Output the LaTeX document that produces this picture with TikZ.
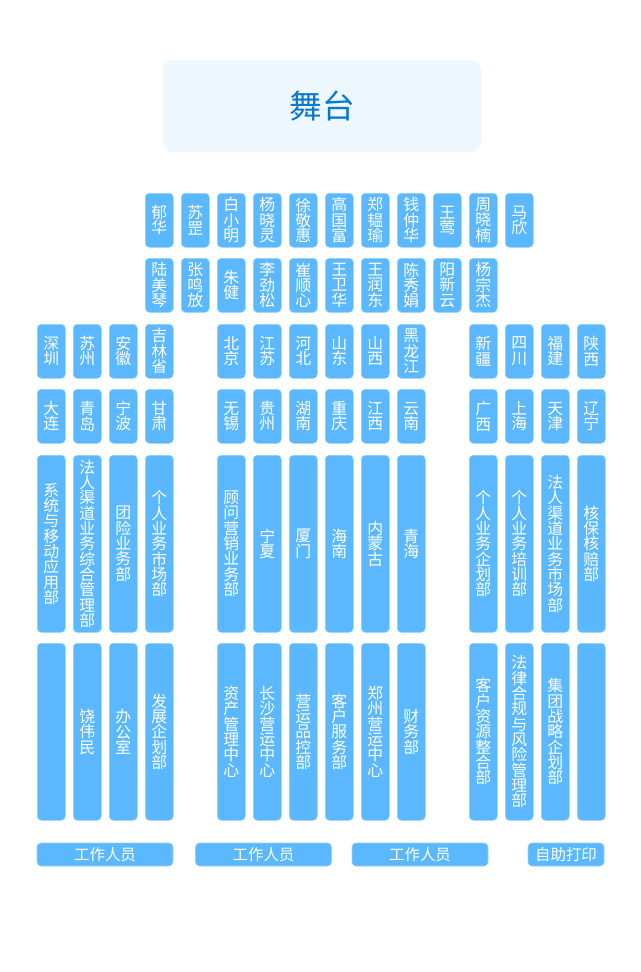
\documentclass[tikz,border=0pt]{standalone}
\usepackage{fontspec}
\newfontfamily\cjkfont{Noto Sans CJK SC}
\usetikzlibrary{positioning}
\definecolor{boxblue}{HTML}{5BB8FE}
\definecolor{stagefill}{HTML}{EEF6FE}
\definecolor{stagetext}{HTML}{0A78D2}

% one character per line
\newcommand{\vt}[1]{\edef\vttmp{#1}\expandafter\vtchk\expandafter{\vttmp}}
\newcommand{\vtchk}[1]{\if\relax\detokenize{#1}\relax\else\vtloop#1\vtstop\fi}
\def\vtloop#1#2\vtstop{#1\if\relax\detokenize{#2}\relax\else\par\vtloop#2\vtstop\fi}

\tikzset{
  cell/.style={fill=boxblue, draw=boxblue!65!white, line width=0.4pt,
    rounded corners=3pt, inner sep=0pt, text width=21pt, align=center,
    text=white, anchor=north west,
    font=\cjkfont\fontsize{11.9pt}{11.5pt}\selectfont},
  shortcell/.style={cell, minimum height=40.5pt},
  longcell/.style={cell, minimum height=132.75pt},
  staffbar/.style={fill=boxblue, draw=boxblue!65!white, line width=0.4pt,
    rounded corners=3pt, inner sep=0pt, minimum height=17.25pt,
    text=white, font=\cjkfont\fontsize{11.6pt}{12pt}\selectfont}
}

\begin{document}
\begin{tikzpicture}[x=0.75pt, y=-0.75pt]
  \fill[white] (0,0) rectangle (640,972);
  \useasboundingbox (0,0) rectangle (640,972);

  % Stage
  \node[fill=stagefill, rounded corners=7.5pt, minimum width=238.5pt,
    minimum height=69pt, text=stagetext,
    font=\cjkfont\fontsize{24.5pt}{28pt}\selectfont] (stage) at (322,106) {舞台};

  % Front rows: names
  \foreach \lab [count=\i from 0] in {郁华,苏罡,白小明,杨晓灵,徐敬惠,高国富,郑韫瑜,钱仲华,王莺,周晓楠,马欣} {
    \node[shortcell] (a\i) at ({145+36*\i},193) {\vt{\lab}};
  }
  \foreach \lab [count=\i from 0] in {陆美琴,张鸣放,朱健,李劲松,崔顺心,王卫华,王润东,陈秀娟,阳新云,杨宗杰} {
    \node[shortcell] (b\i) at ({145+36*\i},258) {\vt{\lab}};
  }

  % Columns: regions and departments
  \foreach \x/\c/\d/\e/\f in {
      37/深圳/大连/系统与移动应用部/{},
      73/苏州/青岛/法人渠道业务综合管理部/饶伟民,
      109/安徽/宁波/团险业务部/办公室,
      145/吉林省/甘肃/个人业务市场部/发展企划部,
      217/北京/无锡/顾问营销业务部/资产管理中心,
      253/江苏/贵州/宁夏/长沙营运中心,
      289/河北/湖南/厦门/营运品控部,
      325/山东/重庆/海南/客户服务部,
      361/山西/江西/内蒙古/郑州营运中心,
      397/黑龙江/云南/青海/财务部,
      469/新疆/广西/个人业务企划部/客户资源整合部,
      505/四川/上海/个人业务培训部/法律合规与风险管理部,
      541/福建/天津/法人渠道业务市场部/集团战略企划部,
      577/陕西/辽宁/核保核赔部/{}} {
    \node[shortcell] (c\x) at (\x,324) {\vt{\c}};
    \node[shortcell] (d\x) at (\x,389) {\vt{\d}};
    \node[longcell] (e\x) at (\x,455) {\vt{\e}};
    \node[longcell] (f\x) at (\x,643) {\vt{\f}};
  }

  % Back row
  \node[staffbar, minimum width=102pt] (staff1) at (105,854.5) {工作人员};
  \node[staffbar, minimum width=102pt] (staff2) at (263.5,854.5) {工作人员};
  \node[staffbar, minimum width=102pt] (staff3) at (420,854.5) {工作人员};
  \node[staffbar, minimum width=57pt] (print) at (566,854.5) {自助打印};
\end{tikzpicture}
\end{document}
